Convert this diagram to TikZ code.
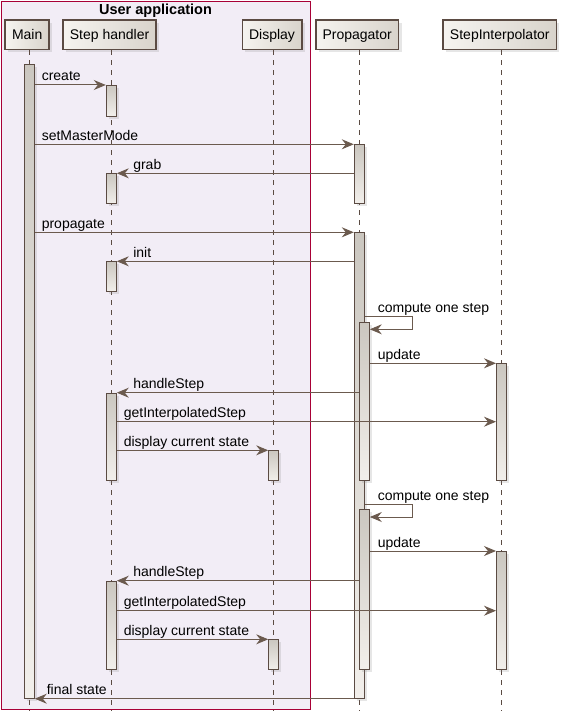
\documentclass[tikz,border=0pt]{standalone}
\usepackage{fontspec}
\setmainfont{Liberation Sans}
\usetikzlibrary{arrows.meta,shadows}
\definecolor{edge}{HTML}{5B4B43}
\definecolor{arrowc}{HTML}{6B5A4E}
\definecolor{partL}{HTML}{F6F4F0}
\definecolor{partR}{HTML}{D8D3CB}
\definecolor{actT}{HTML}{CBC7C0}
\definecolor{actB}{HTML}{F2EFEB}
\definecolor{grpfill}{HTML}{F2EDF6}
\definecolor{grpedge}{HTML}{A80036}
\tikzset{
  part/.style={draw=edge, line width=1.5pt, left color=partL, right color=partR,
    minimum height=29.3pt, inner xsep=6.8pt, text height=10pt, text depth=0pt,
    drop shadow={shadow xshift=3pt, shadow yshift=-3pt, opacity=.2}},
  act/.style={draw=edge, line width=1pt, top color=actT, bottom color=actB,
    minimum width=10pt, inner sep=0pt, anchor=north,
    drop shadow={shadow xshift=2.5pt, shadow yshift=-2.5pt, opacity=.2}},
  life/.style={draw=edge, line width=1pt, dash pattern=on 5pt off 5pt},
  msg/.style={draw=arrowc, line width=1pt, -{Stealth[length=12pt,width=10pt,inset=4pt]}},
  lblR/.style={anchor=base west, inner sep=0pt, xshift=6.5pt, yshift=4pt, text=black},
  lblL/.style={anchor=base west, inner sep=0pt, xshift=16pt, yshift=4pt, text=black}
}
\begin{document}
\begin{tikzpicture}[x=1pt, y=-1pt, font=\fontsize{14}{16}\selectfont]
  \useasboundingbox (0,0) rectangle (566,711);
  % group
  \draw[fill=grpfill, draw=grpedge, line width=1pt] (1.5,1.5) rectangle (310,709.5);
  \node[anchor=base, inner sep=0pt, font=\fontsize{14.5}{16}\selectfont\bfseries] (grp) at (155.5,14.5) {User application};
  % participants
  \node[part] (main) at (27.2,34.7) {Main};
  \node[part] (handler) at (109.6,34.7) {Step handler};
  \node[part] (display) at (272,34.7) {Display};
  \node[part] (prop) at (357.2,34.7) {Propagator};
  \node[part] (interp) at (499.8,34.7) {StepInterpolator};
  % lifelines
  \coordinate (mainEnd) at (29.3,711);
  \coordinate (handlerEnd) at (111.3,711);
  \coordinate (displayEnd) at (273.7,711);
  \coordinate (propEnd) at (359.3,711);
  \coordinate (interpEnd) at (501.5,711);
  \draw[life] (main.south -| mainEnd) -- (mainEnd);
  \draw[life] (handler.south -| handlerEnd) -- (handlerEnd);
  \draw[life] (display.south -| displayEnd) -- (displayEnd);
  \draw[life] (prop.south -| propEnd) -- (propEnd);
  \draw[life] (interp.south -| interpEnd) -- (interpEnd);
  % activations
  \node[act, minimum height=633.7] (mainA) at (29.3,64) {};
  \node[act, minimum height=30.7] (h1) at (111.3,85) {};
  \node[act, minimum height=59] (p1) at (359.3,144.3) {};
  \node[act, minimum height=30] (h2) at (111.3,173.3) {};
  \node[act, minimum height=466] (p2) at (359.3,232.3) {};
  \node[act, minimum height=30] (h3) at (111.3,261.3) {};
  \node[act, minimum height=158.3] (p3) at (364.3,321.7) {};
  \node[act, minimum height=116.7] (i1) at (501.5,363.3) {};
  \node[act, minimum height=87.3] (h4) at (111.3,392.7) {};
  \node[act, minimum height=29.7] (d1) at (273.7,450.3) {};
  \node[act, minimum height=160] (p4) at (364.3,509.3) {};
  \node[act, minimum height=118.3] (i2) at (501.5,551) {};
  \node[act, minimum height=88.6] (h5) at (111.3,580.7) {};
  \node[act, minimum height=30] (d2) at (273.7,639.3) {};
  % message levels
  \coordinate (c1) at (0,316.7);
  \coordinate (back1) at (0,329.3);
  \coordinate (g1) at (0,421.7);
  \coordinate (c2) at (0,504.3);
  \coordinate (back2) at (0,517);
  \coordinate (g2) at (0,610.7);
  % messages
  \draw[msg] (mainA.east |- h1.north) -- node[lblR, at start] {create} (h1.north west);
  \draw[msg] (mainA.east |- p1.north) -- node[lblR, at start] {setMasterMode} (p1.north west);
  \draw[msg] (p1.west |- h2.north) -- node[lblL, at end] {grab} (h2.north east);
  \draw[msg] (mainA.east |- p2.north) -- node[lblR, at start] {propagate} (p2.north west);
  \draw[msg] (p2.west |- h3.north) -- node[lblL, at end] {init} (h3.north east);
  \draw[msg] (p2.east |- c1) -- node[lblR, at start, xshift=6pt] {compute one step} ++(47.7,0) -- ++(0,12.6) -- (p3.east |- back1);
  \draw[msg] (p3.east |- i1.north) -- node[lblR, at start, xshift=1pt] {update} (i1.north west);
  \draw[msg] (p3.west |- h4.north) -- node[lblL, at end] {handleStep} (h4.north east);
  \draw[msg] (h4.east |- g1) -- node[lblR, at start] {getInterpolatedStep} (i1.west |- g1);
  \draw[msg] (h4.east |- d1.north) -- node[lblR, at start] {display current state} (d1.north west);
  \draw[msg] (p2.east |- c2) -- node[lblR, at start, xshift=6pt] {compute one step} ++(47.7,0) -- ++(0,12.7) -- (p4.east |- back2);
  \draw[msg] (p4.east |- i2.north) -- node[lblR, at start, xshift=1pt] {update} (i2.north west);
  \draw[msg] (p4.west |- h5.north) -- node[lblL, at end] {handleStep} (h5.north east);
  \draw[msg] (h5.east |- g2) -- node[lblR, at start] {getInterpolatedStep} (i2.west |- g2);
  \draw[msg] (h5.east |- d2.north) -- node[lblR, at start] {display current state} (d2.north west);
  \draw[msg] (p2.west |- mainA.south) -- node[lblL, at end, xshift=-4.5pt] {final state} (mainA.south east);
\end{tikzpicture}
\end{document}
